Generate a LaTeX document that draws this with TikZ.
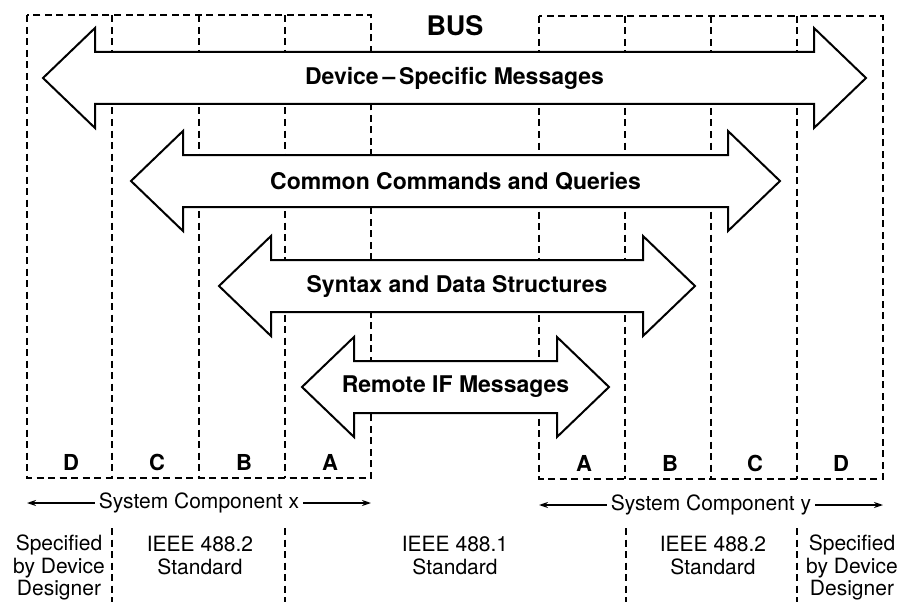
\documentclass[tikz,border=0pt]{standalone}
\usepackage{fontspec}
\setmainfont{TeX Gyre Heros}
\usetikzlibrary{arrows.meta}
\newcommand\busarrow[5]{% name, cy, xl, xr, label
  \draw[bigarrow] ({#3},{#2}) -- ({#3+52},{#2-50}) -- ({#3+52},{#2-26}) -- ({#4-52},{#2-26})
    -- ({#4-52},{#2-50}) -- ({#4},{#2}) -- ({#4-52},{#2+50}) -- ({#4-52},{#2+26})
    -- ({#3+52},{#2+26}) -- ({#3+52},{#2+50}) -- cycle;
  \node[arrowlabel] (#1) at ({(#3+#4)/2},{#2}) {#5};
}
\tikzset{
  dash line/.style={line width=2pt, dash pattern=on 7pt off 4.5pt},
  bigarrow/.style={draw=black, fill=white, line width=2pt, line join=miter},
  arrowlabel/.style={font=\fontsize{23}{27}\selectfont\bfseries, inner sep=0pt},
  letterlabel/.style={font=\fontsize{22}{25}\selectfont\bfseries, inner sep=0pt},
  plainlabel/.style={font=\fontsize{21}{22.5}\selectfont, inner sep=1pt, align=center},
  sysarrow/.style={line width=1.3pt, -{Stealth[length=9pt,width=6pt]}},
}
\begin{document}
\begin{tikzpicture}[x=1pt,y=-1pt]
\useasboundingbox (0,0) rectangle (898,602);
\fill[white] (0,0) rectangle (898,602);
% dashed bus columns
\draw[dash line] (27,15.5) rectangle (371,477.5);
\foreach \xx in {112,199,285} \draw[dash line] (\xx,15.5) -- (\xx,477.5);
\draw[dash line] (539,16) rectangle (883,478.5);
\foreach \xx in {625,711,797} \draw[dash line] (\xx,16) -- (\xx,478.5);
% bottom separators
\foreach \xx in {112,285,626,797} \draw[dash line] (\xx,528) -- (\xx,602);
% arrows
\busarrow{dsm}{78}{43}{866}{Device\,–\,Specific Messages}
\busarrow{ccq}{181}{131}{780}{Common Commands and Queries}
\busarrow{sds}{286}{219}{695}{Syntax and Data Structures}
\busarrow{rim}{387}{302}{609}{Remote IF Messages}
% title
\node[font=\fontsize{27}{30}\selectfont\bfseries, inner sep=0pt] (bus) at (455,26) {BUS};
% column letters
\node[letterlabel] (xd) at (71,462) {D};
\node[letterlabel] (xc) at (157,462) {C};
\node[letterlabel] (xb) at (244,462) {B};
\node[letterlabel] (xa) at (330,462) {A};
\node[letterlabel] (ya) at (584,463) {A};
\node[letterlabel] (yb) at (670,463) {B};
\node[letterlabel] (yc) at (755,463) {C};
\node[letterlabel] (yd) at (841,463) {D};
% system components
\node[plainlabel] (scx) at (199,503) {System Component x};
\coordinate (scxl) at (27,503);
\coordinate (scxr) at (371,503);
\draw[sysarrow] ([xshift=-3pt]scx.west) -- (scxl);
\draw[sysarrow] ([xshift=3pt]scx.east) -- (scxr);
\node[plainlabel] (scy) at (711,505) {System Component y};
\coordinate (scyl) at (539,505);
\coordinate (scyr) at (883,505);
\draw[sysarrow] ([xshift=-3pt]scy.west) -- (scyl);
\draw[sysarrow] ([xshift=3pt]scy.east) -- (scyr);
% bottom texts
\node[plainlabel, anchor=north] (sdl) at (59,534) {Specified\\by Device\\Designer};
\node[plainlabel, anchor=north] (i2l) at (200,535) {IEEE 488.2\\Standard};
\node[plainlabel, anchor=north] (i1) at (455,535) {IEEE 488.1\\Standard};
\node[plainlabel, anchor=north] (i2r) at (713,535) {IEEE 488.2\\Standard};
\node[plainlabel, anchor=north] (sdr) at (852,534) {Specified\\by Device\\Designer};
\end{tikzpicture}
\end{document}
